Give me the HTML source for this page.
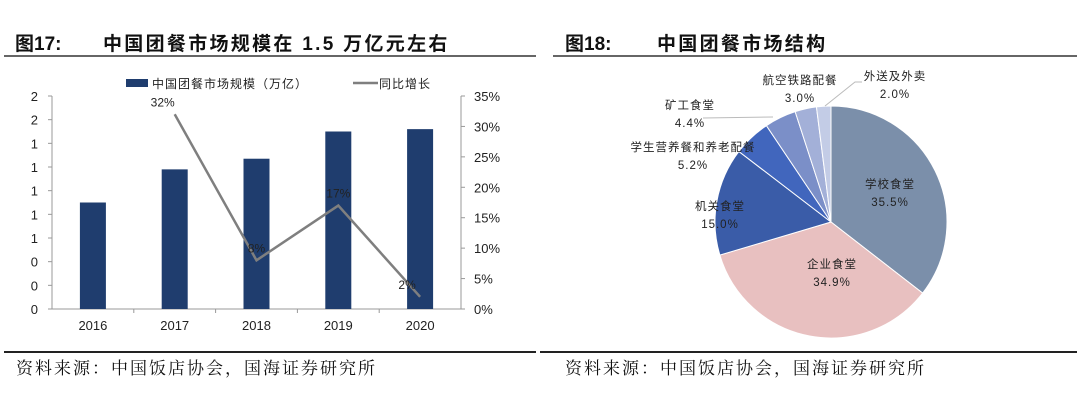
<!DOCTYPE html>
<html><head><meta charset="utf-8"><style>
body{margin:0;width:1080px;height:413px;background:#fff;position:relative;overflow:hidden;font-family:"Liberation Sans","Noto Sans CJK SC",sans-serif}
.t{position:absolute;font-weight:bold;font-size:19px;color:#111;top:29px;white-space:pre}
.f{position:absolute;top:354px;font-family:"Liberation Serif","Noto Serif CJK SC",serif;font-size:17px;letter-spacing:2px;color:#111}
.ln{position:absolute;height:2px;background:#666}
</style></head><body>
<div class="t" style="left:15px">图17:</div>
<div class="t" style="left:103px;letter-spacing:2.3px">中国团餐市场规模在 1.5 万亿元左右</div>
<div class="t" style="left:565px">图18:</div>
<div class="t" style="left:657px;letter-spacing:2.3px">中国团餐市场结构</div>
<div class="ln" style="left:4px;width:532px;top:55px"></div>
<div class="ln" style="left:553px;width:524px;top:55px"></div>
<div class="ln" style="left:4px;width:532px;top:351px;background:#222"></div>
<div class="ln" style="left:540px;width:537px;top:351px;background:#222"></div>
<div class="f" style="left:16px">资料来源：中国饭店协会，国海证券研究所</div>
<div class="f" style="left:565px">资料来源：中国饭店协会，国海证券研究所</div>
<svg id="bar" width="540" height="350" style="position:absolute;left:0;top:0"></svg>
<svg id="pie" width="540" height="350" style="position:absolute;left:540px;top:0"></svg>
<script>
const years=["2016","2017","2018","2019","2020"];
const sizes=[0.9,1.18,1.27,1.50,1.52];
const growth=[null,32,8,17,2];
const leftTicks=["0","0","0","1","1","1","1","1","2","2"];
const rightTicks=["0%","5%","10%","15%","20%","25%","30%","35%"];
const NS="http://www.w3.org/2000/svg";
function mk(svg,tag,attrs,text){const e=document.createElementNS(NS,tag);for(const k in attrs)e.setAttribute(k,attrs[k]);if(text!=null)e.textContent=text;svg.appendChild(e);return e;}
const b=document.getElementById('bar');
const X0=52,X1=461,Y0=309,Y1=96;
const cw=(X1-X0)/years.length;
const yL=v=>Y0-(v/1.8)*(Y0-Y1);
const yR=v=>Y0-(v/35)*(Y0-Y1);
const xC=i=>X0+cw*(i+0.5);
const lblDx=[0,-12,0,0,-13];
let e;
e=mk(b,'line',{x1:X0,y1:Y1,x2:X0,y2:Y0,stroke:'#999'});
e=mk(b,'line',{x1:X1,y1:Y1,x2:X1,y2:Y0,stroke:'#999'});
e=mk(b,'line',{x1:X0,y1:Y0,x2:X1,y2:Y0,stroke:'#999'});
leftTicks.forEach((t,i)=>{const y=yL(i*0.2);mk(b,'line',{x1:X0-4,y1:y,x2:X0,y2:y,stroke:'#999'});
 e=mk(b,'text',{x:38,y:y+5,'text-anchor':'end','font-size':13,fill:'#222'},t);});
rightTicks.forEach((t,i)=>{const y=yR(i*5);mk(b,'line',{x1:X1,y1:y,x2:X1+4,y2:y,stroke:'#999'});
 e=mk(b,'text',{x:474,y:y+5,'font-size':13,fill:'#222'},t);});
years.forEach((yr,i)=>{
 if(i>0)mk(b,'line',{x1:X0+cw*i,y1:Y0,x2:X0+cw*i,y2:Y0+4,stroke:'#999'});
 e=mk(b,'rect',{x:xC(i)-13,y:yL(sizes[i]),width:26,height:Y0-yL(sizes[i]),fill:'#1f3d6e'});
 e=mk(b,'text',{x:xC(i),y:330,'text-anchor':'middle','font-size':13,fill:'#222'},yr);
});
let pts=[];growth.forEach((g,i)=>{if(g!=null)pts.push(xC(i)+','+yR(g));});
e=mk(b,'polyline',{points:pts.join(' '),fill:'none',stroke:'#7f7f7f','stroke-width':2.5});
growth.forEach((g,i)=>{if(g==null)return;e=mk(b,'text',{x:xC(i)+lblDx[i],y:yR(g)-8,'text-anchor':'middle','font-size':12,fill:'#222'},g+'%');});
e=mk(b,'rect',{x:126,y:79,width:22,height:8,fill:'#1f3d6e'});
e=mk(b,'text',{x:152,y:88,'font-size':12,fill:'#222','letter-spacing':1},'中国团餐市场规模（万亿）');
e=mk(b,'line',{x1:353,y1:83,x2:378,y2:83,stroke:'#7f7f7f','stroke-width':2.5});
e=mk(b,'text',{x:379,y:88,'font-size':12,fill:'#222','letter-spacing':1},'同比增长');

const cats=["学校食堂","企业食堂","机关食堂","学生营养餐和养老配餐","矿工食堂","航空铁路配餐","外送及外卖"];
const shares=[35.5,34.9,15.0,5.2,4.4,3.0,2.0];
const colors=["#7b8faa","#e8c0c0","#3a5ca8","#4166bd","#7b8fc8","#a3b0d8","#c3cce6"];
const labelPos=[[350,184],[292,264],[180,206],[153,147],[150,105],[260,80],[355,76]];
const p=document.getElementById('pie');
const cx=291,cy=222,r=116;
const tot=shares.reduce((a,c)=>a+c,0);
let a0=-Math.PI/2;
shares.forEach((s,i)=>{
 const a1=a0+s/tot*2*Math.PI;
 const x0=cx+r*Math.cos(a0),y0=cy+r*Math.sin(a0),x1=cx+r*Math.cos(a1),y1=cy+r*Math.sin(a1);
 e=mk(p,'path',{d:`M${cx},${cy}L${x0},${y0}A${r},${r} 0 ${a1-a0>Math.PI?1:0} 1 ${x1},${y1}Z`,fill:colors[i],stroke:'#fff','stroke-width':1});
 
 a0=a1;
});
mk(p,'polyline',{points:'163,118 233,117',fill:'none',stroke:'#bbb'});
mk(p,'polyline',{points:'322,82 315,82 285,106',fill:'none',stroke:'#bbb'});
cats.forEach((c,i)=>{const [x,y]=labelPos[i];
 e=mk(p,'text',{x:x,y:y+4,'text-anchor':'middle','font-size':11.5,fill:'#222','letter-spacing':1},c);
 e=mk(p,'text',{x:x,y:y+22,'text-anchor':'middle','font-size':11.5,fill:'#222','letter-spacing':1},shares[i].toFixed(1)+'%');
});
</script>
</body></html>
